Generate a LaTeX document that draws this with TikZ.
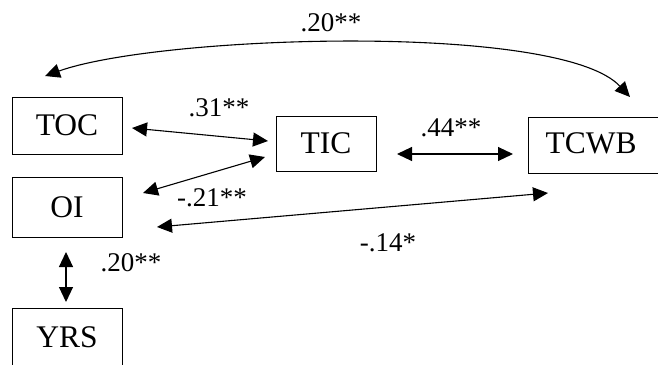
\documentclass[tikz,border=0pt]{standalone}
\usepackage{fontspec}
\setmainfont{Liberation Serif}
\usetikzlibrary{arrows.meta}
\begin{document}
\begin{tikzpicture}[x=1pt,y=-1pt,
  box/.style={draw=black,line width=0.9pt,rectangle,inner sep=0pt,font=\fontsize{31.5}{31.5}\selectfont},
  lbl/.style={font=\fontsize{27}{27}\selectfont,inner sep=0pt},
  dbl/.style={line width=1.1pt,{Triangle[length=15pt,width=14pt]}-{Triangle[length=15pt,width=14pt]}}]
\useasboundingbox (0,0) rectangle (658,364);
\clip (0,0) rectangle (658,364);
\node[box,minimum width=110pt,minimum height=57pt] (toc) at (67,125.5) {TOC};
\node[box,minimum width=110pt,minimum height=60pt] (oi) at (67,207) {OI};
\node[box,minimum width=110pt,minimum height=58pt] (yrs) at (67,337.5) {YRS};
\node[box,minimum width=100pt,minimum height=55pt] (tic) at (326,143.5) {TIC};
\node[box,minimum width=140pt,minimum height=56pt] (tcwb) at (598,145) {};
\node[font=\fontsize{31.5}{31.5}\selectfont,inner sep=0pt] (tcwbt) at (591,143) {TCWB};
% connector end points
\coordinate (c1a) at (45,76);
\coordinate (c1b) at (630,97);
\coordinate (c2a) at (132,128);
\coordinate (c2b) at (268,141);
\coordinate (c3a) at (143,193);
\coordinate (c3b) at (265,157);
\coordinate (c4a) at (397,154);
\coordinate (c4b) at (513,154);
\coordinate (c5a) at (157,227);
\coordinate (c5b) at (548,193);
\coordinate (c6a) at (66,252);
\coordinate (c6b) at (66,302);
\draw[dbl] (c1a) .. controls (160,35) and (560,22) .. (c1b);
\draw[dbl] (c2a) -- (c2b);
\draw[dbl] (c3a) -- (c3b);
\draw[dbl] (c4a) -- (c4b);
\draw[dbl] (c5a) -- (c5b);
\draw[dbl] (c6a) -- (c6b);
% labels
\node[lbl] (l1) at (331,23) {.20**};
\node[lbl] (l2) at (219,108) {.31**};
\node[lbl] (l3) at (212,198) {-.21**};
\node[lbl] (l4) at (451,128) {.44**};
\node[lbl] (l5) at (388,243) {-.14*};
\node[lbl] (l6) at (131,263) {.20**};
\end{tikzpicture}
\end{document}
